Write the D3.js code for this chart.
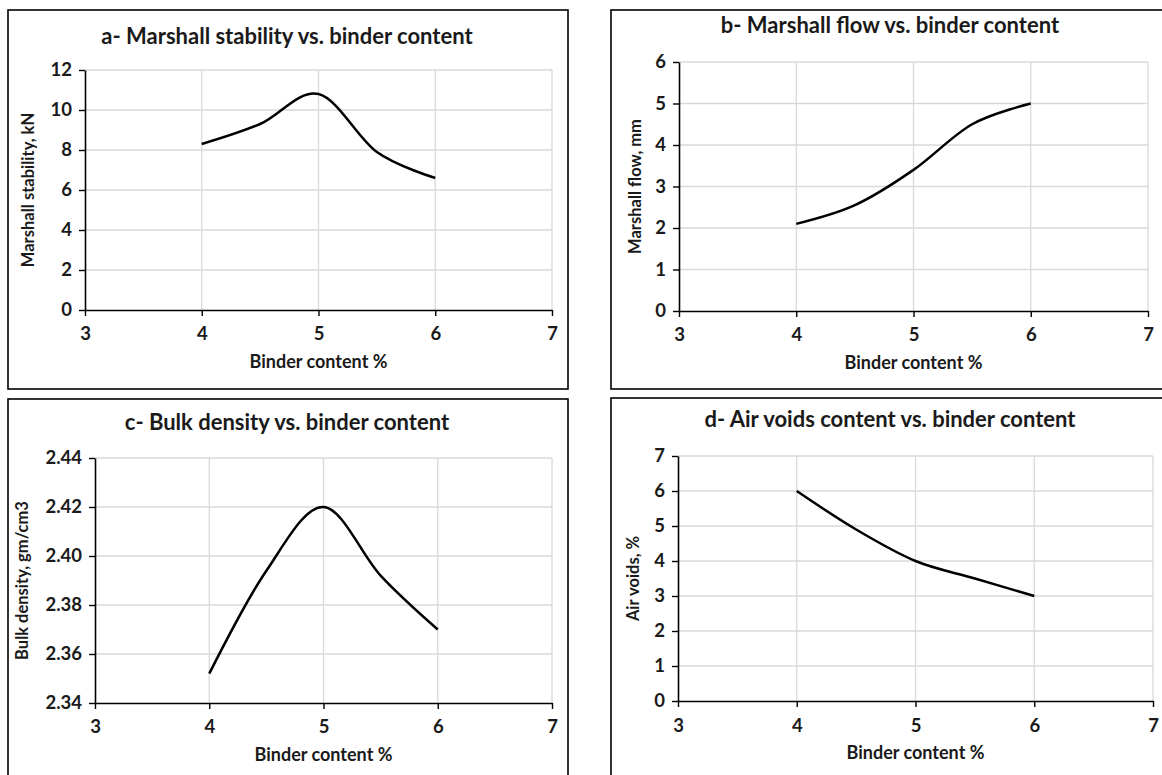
<!DOCTYPE html>
<html>
<head>
<meta charset="utf-8">
<script src="https://cdn.jsdelivr.net/npm/d3@7"></script>
<style>
  body { margin: 0; background: #fff; }
  svg { display: block; }
  text { font-family: Lato, "Open Sans", sans-serif; font-weight: bold; fill: #1a1a1a; }
</style>
</head>
<body>
<div id="chart"></div>
<script>
// binder content % tested
var binder = [4, 4.5, 5, 5.5, 6];

// test results
var stability = [8.3, 9.3, 10.8, 7.9, 6.6];      // kN
var flow = [2.1, 2.55, 3.4, 4.5, 5.0];            // mm
var density = [2.352, 2.394, 2.42, 2.392, 2.37];  // gm/cm3
var airVoids = [6.0, 4.9, 4.0, 3.5, 3.0];         // %

var xTicks = [3, 4, 5, 6, 7];
var stabilityTicks = [0, 2, 4, 6, 8, 10, 12];
var flowTicks = [0, 1, 2, 3, 4, 5, 6];
var densityTicks = [2.34, 2.36, 2.38, 2.40, 2.42, 2.44];
var voidsTicks = [0, 1, 2, 3, 4, 5, 6, 7];

var svg = d3.select("#chart").append("svg")
    .attr("width", 1162)
    .attr("height", 775);

var panels = [
  { title: "a- Marshall stability vs. binder content", ylabel: "Marshall stability, kN",
    values: stability, ticks: stabilityTicks, fmt: d3.format("d"),
    frame: [8, 10, 560, 379], plot: [85, 70, 552, 310], titleY: 44, ylabX: 30, tickY: 335, xlabY: 363 },
  { title: "b- Marshall flow vs. binder content", ylabel: "Marshall flow, mm",
    values: flow, ticks: flowTicks, fmt: d3.format("d"),
    frame: [611, 10, 562, 379], plot: [679, 62, 1148, 311], titleY: 33, ylabX: 637, tickY: 336, xlabY: 364 },
  { title: "c- Bulk density vs. binder content", ylabel: "Bulk density, gm/cm3",
    values: density, ticks: densityTicks, fmt: d3.format(".2f"),
    frame: [8, 399, 560, 390], plot: [95, 458, 552, 703], titleY: 430, ylabX: 24, tickY: 728, xlabY: 756 },
  { title: "d- Air voids content vs. binder content", ylabel: "Air voids, %",
    values: airVoids, ticks: voidsTicks, fmt: d3.format("d"),
    frame: [611, 398, 562, 390], plot: [678, 456, 1153, 701], titleY: 427, ylabX: 635, tickY: 727, xlabY: 754 }
];

panels.forEach(drawPanel);

function drawPanel(p) {
  var g = svg.append("g");

  g.append("rect")
    .attr("x", p.frame[0]).attr("y", p.frame[1])
    .attr("width", p.frame[2]).attr("height", p.frame[3])
    .attr("fill", "none")
    .attr("stroke", "#000")
    .attr("stroke-width", 1.6);

  var x = d3.scaleLinear().domain([3, 7]).range([p.plot[0], p.plot[2]]);
  var y = d3.scaleLinear()
      .domain([p.ticks[0], p.ticks[p.ticks.length - 1]])
      .range([p.plot[3], p.plot[1]]);

  // gridlines
  g.append("g").selectAll("line.h")
    .data(p.ticks.slice(1))
    .enter().append("line")
      .attr("x1", p.plot[0]).attr("x2", p.plot[2])
      .attr("y1", function(d) { return y(d); })
      .attr("y2", function(d) { return y(d); })
      .attr("stroke", "#d9d9d9").attr("stroke-width", 1.3);
  g.append("g").selectAll("line.v")
    .data(xTicks.slice(1))
    .enter().append("line")
      .attr("x1", function(d) { return x(d); })
      .attr("x2", function(d) { return x(d); })
      .attr("y1", p.plot[1]).attr("y2", p.plot[3])
      .attr("stroke", "#d9d9d9").attr("stroke-width", 1.3);

  // axes
  var xAxis = g.append("g")
      .attr("transform", "translate(0," + p.plot[3] + ")")
      .call(d3.axisBottom(x).tickValues(xTicks).tickSize(6).tickSizeOuter(0).tickFormat(d3.format("d")));
  var yAxis = g.append("g")
      .attr("transform", "translate(" + p.plot[0] + ",0)")
      .call(d3.axisLeft(y).tickValues(p.ticks).tickSize(6).tickSizeOuter(0).tickPadding(7).tickFormat(p.fmt));

  [xAxis, yAxis].forEach(function(a) {
    a.attr("font-size", null).attr("font-family", null);
    a.select(".domain").attr("stroke", "#000").attr("stroke-width", 1.6);
    a.selectAll(".tick line").attr("stroke", "#000").attr("stroke-width", 1.4);
    a.selectAll(".tick text")
      .attr("fill", "#1a1a1a")
      .style("font-size", "18.5px");
  });
  xAxis.selectAll(".tick text")
    .attr("dy", null)
    .attr("y", p.tickY - p.plot[3])
    .attr("dominant-baseline", "middle");

  // line
  var line = d3.line()
      .x(function(d, i) { return x(binder[i]); })
      .y(function(d) { return y(d); })
      .curve(d3.curveCardinal.tension(0));

  g.append("path")
    .datum(p.values)
    .attr("d", line)
    .attr("fill", "none")
    .attr("stroke", "#000")
    .attr("stroke-width", 2.5);

  // titles
  g.append("text")
    .attr("x", p.frame[0] + 279).attr("y", p.titleY)
    .attr("text-anchor", "middle")
    .style("font-size", "22px")
    .text(p.title);

  g.append("text")
    .attr("x", (p.plot[0] + p.plot[2]) / 2).attr("y", p.xlabY)
    .attr("text-anchor", "middle")
    .attr("dominant-baseline", "middle")
    .style("font-size", "18px")
    .text("Binder content %");

  g.append("text")
    .attr("transform", "translate(" + p.ylabX + "," + ((p.plot[1] + p.plot[3]) / 2) + ") rotate(-90)")
    .attr("text-anchor", "middle")
    .attr("dominant-baseline", "middle")
    .style("font-size", "16.5px")
    .text(p.ylabel);
}
</script>
</body>
</html>
